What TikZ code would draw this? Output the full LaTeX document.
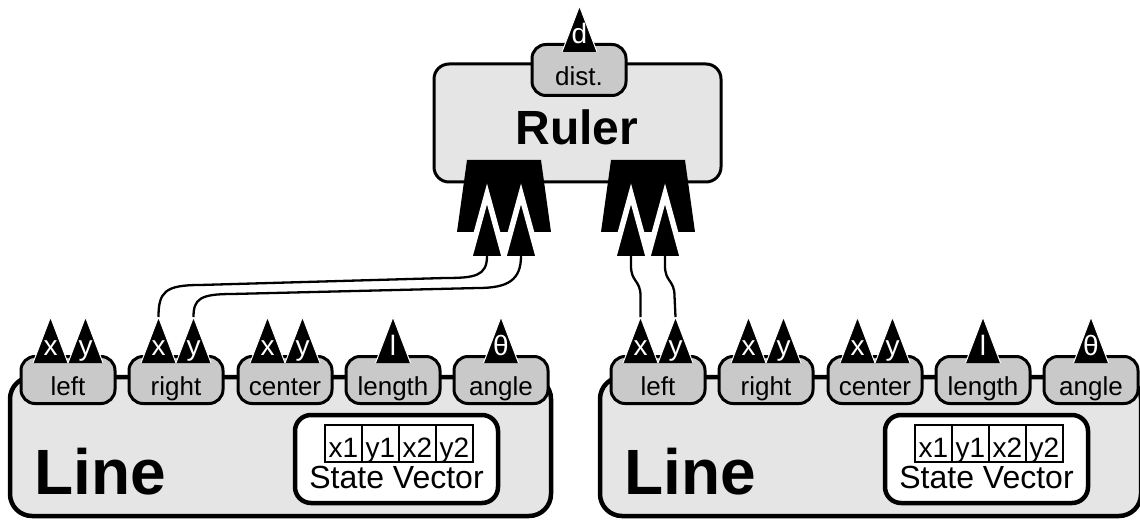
\documentclass[tikz,border=0pt]{standalone}
\usepackage{fontspec}
\setmainfont{Liberation Sans}
\definecolor{boxgray}{gray}{0.9}
\definecolor{portgray}{gray}{0.79}
\tikzset{
  module/.style={draw, line width=4.5pt, fill=boxgray, rounded corners=22pt},
  rulerbox/.style={draw, line width=3pt, fill=boxgray, rounded corners=15pt},
  port/.style={draw, line width=3pt, fill=portgray, rounded corners=14pt,
    minimum width=94pt, minimum height=47pt, inner sep=0pt},
  portname/.style={anchor=base, inner sep=0pt, font=\fontsize{26}{30}\selectfont},
  pinname/.style={anchor=base, inner sep=0pt, text=white, font=\fontsize{28}{32}\selectfont},
  bigname/.style={inner sep=0pt, font=\fontsize{#1}{#1}\selectfont\bfseries},
  statebox/.style={draw, line width=4.5pt, fill=white, rounded corners=16pt,
    minimum width=203pt, minimum height=88pt},
  cell/.style={draw, line width=1.5pt, minimum width=37pt, minimum height=37pt, inner sep=0pt,
    text height=27pt, text depth=0pt, font=\fontsize{28}{32}\selectfont},
  wire/.style={line width=2.3pt},
  inpin/.pic={
    \filldraw[draw=white, line width=1pt] (-17.5,0) -- (0,-46) -- (17.5,0);
    \node[pinname] (-lbl) at (0,-8) {#1};
    \coordinate (-tip) at (0,-46);
  },
  plug/.pic={
    \fill (-47,0) -- (-37,-72) -- (37,-72) -- (47,0) -- cycle;
    \filldraw[draw=white, line width=5.5pt] (-34,24) -- (-17,-38) -- (0,24);
    \filldraw[draw=white, line width=5.5pt] (0,24) -- (17,-38) -- (34,24);
    \coordinate (-a) at (-17,24);
    \coordinate (-b) at (17,24);
  },
}
\begin{document}
\begin{tikzpicture}[x=1pt,y=-1pt]
  \useasboundingbox (0,0) rectangle (1140,521);
  \draw[rulerbox] (434,64) rectangle (721,182);
  \node[port, minimum height=51pt] (dist) at (579,70) {};
  \node[portname] (distname) at (579,86) {dist.};
  \pic (d) at (579.5,52) {inpin=d};
  \node[bigname=48, anchor=base] (ruler) at (577,145) {Ruler};
  \pic (pa) at (504,232) {plug};
  \pic (pb) at (648,232) {plug};
  \foreach \m/\dx in {l/0,r/590}{
    \begin{scope}[xshift=\dx pt]
      \draw[module] (10,377) rectangle (551,516);
      \foreach \p/\px in {left/68,right/176,center/285,length/393,angle/501}{
        \node[port] (\m-\p) at (\px,380) {};
        \node[portname] (\m-\p-name) at (\px,395) {\p};
      }
      \foreach \p/\px in {left/68,right/176,center/285}{
        \pic (\m-\p-x) at (\px-17.5,363) {inpin=x};
        \pic (\m-\p-y) at (\px+17.5,363) {inpin=y};
      }
      \pic (\m-l) at (393,363) {inpin=l};
      \pic (\m-theta) at (501,363) {inpin=θ};
      \node[statebox] (\m-state) at (396.5,459) {};
      \foreach \c [count=\i from 0] in {x1,y1,x2,y2}
        \node[cell] (\m-\c) at (343.5+37*\i,443.5) {\c};
      \node[portname, font=\fontsize{32}{36}\selectfont] (\m-statename) at (396.5,488) {State Vector};
      \node[bigname=64, anchor=base west] (\m-line) at (34,494) {Line};
    \end{scope}
  }
  \draw[wire] (pa-a) .. controls +(0,20) and +(30,0) .. (445,278) -- (200,285)
    .. controls +(-35,0) and +(0,-25) .. (l-right-x-tip);
  \draw[wire] (pa-b) .. controls +(0,24) and +(30,0) .. (478,288) -- (232,294)
    .. controls +(-32,0) and +(0,-18) .. (l-right-y-tip);
  \draw[wire] (pb-a) -- ++(0,10) .. controls +(0,16) and +(0,-16) .. ++(9.5,30) -- (r-left-x-tip);
  \draw[wire] (pb-b) -- ++(0,10) .. controls +(0,16) and +(0,-16) .. ++(9.5,30) -- (r-left-y-tip);
\end{tikzpicture}
\end{document}
